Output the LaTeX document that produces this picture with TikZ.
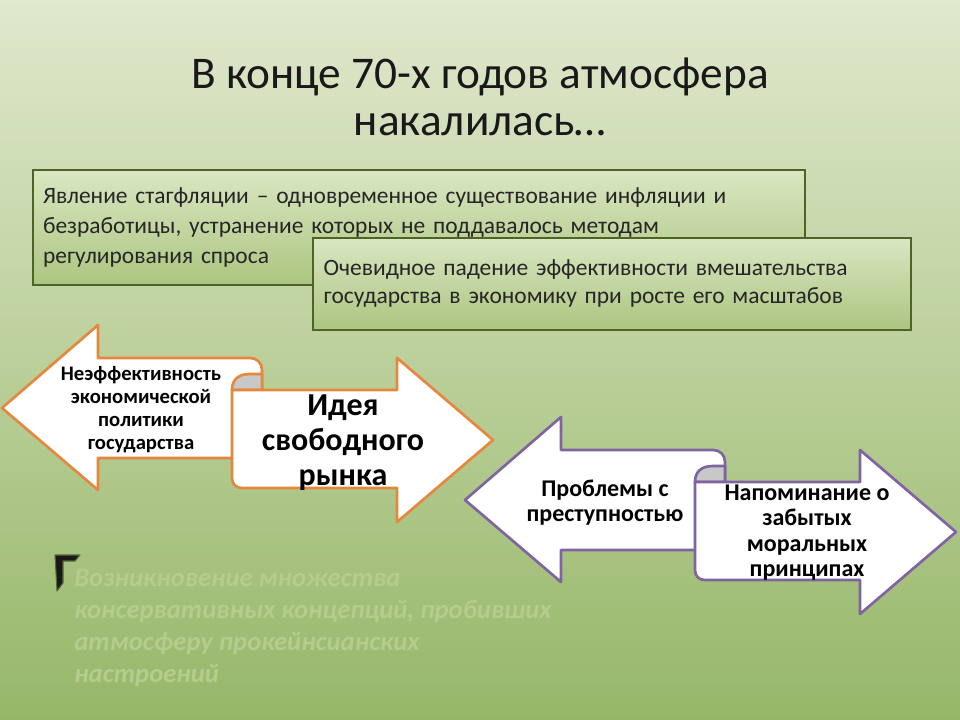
\documentclass[tikz,border=0pt]{standalone}
\usepackage{fontspec}
\setmainfont{Carlito}
\definecolor{bgtop}{RGB}{224,232,205}
\definecolor{bgbot}{RGB}{150,183,104}
\definecolor{boxline}{RGB}{79,98,40}
\definecolor{boxtop}{RGB}{218,230,194}
\definecolor{boxbot}{RGB}{172,197,128}
\definecolor{orangeline}{RGB}{230,135,62}
\definecolor{purpleline}{RGB}{128,100,162}
\definecolor{curlgray}{RGB}{200,200,200}
\definecolor{faded}{RGB}{180,204,140}

\begin{document}
\begin{tikzpicture}[x=0.75pt,y=-0.75pt,
  box/.style={draw=boxline, line width=1.5pt, top color=boxtop, bottom color=boxbot,
    align=left, text=black!85},
  scroll/.style={draw=#1, fill=white, line width=2pt, line join=round},
  curl/.style={scroll=#1, fill=curlgray},
  arrowtext/.style={align=center, text=black, inner sep=0pt}]
\useasboundingbox (0,0) rectangle (960,720);
\shade[top color=bgtop, bottom color=bgbot] (0,0) rectangle (960,720);

% title
\node[font=\fontsize{34}{35.5}\selectfont, align=center, text=black!90] (title) at (480,97)
  {В конце 70-х годов атмосфера\\накалилась…};

% text boxes
\node[box, font=\fontsize{17.6}{22.5}\selectfont, inner xsep=7.5pt,
  minimum width=579pt, minimum height=86pt, text width=564pt] (stagfl) at (419,227.5)
  {Явление стагфляции – одновременное существование инфляции и\\
   безработицы, устранение которых не поддавалось методам\\
   регулирования спроса};
\node[box, font=\fontsize{17.6}{21}\selectfont, inner xsep=8pt,
  minimum width=448.5pt, minimum height=69pt, text width=432.5pt] (decline) at (612,284)
  {Очевидное падение эффективности вмешательства\\
   государства в экономику при росте его масштабов};

% two scroll arrows
\foreach \dx/\dy/\edge in {0/0/orangeline, 463/92/purpleline} {
  \begin{scope}[shift={(\dx,\dy)}]
    \path[scroll=\edge] (2,408) -- (98,325) -- (98,358) -- (250,358)
      .. controls (257,358) and (262,363) .. (262,370) -- (262,458)
      -- (98,458) -- (98,490) -- cycle;
    \path[curl=\edge] (232,390) .. controls (232,380) and (238,374) .. (250,374)
      -- (262,374) -- (262,390) -- cycle;
    \path[scroll=\edge] (232,390) -- (397,390) -- (397,358) -- (493,440)
      -- (397,522) -- (397,488) -- (242,488)
      .. controls (236,488) and (232,484) .. (232,478) -- cycle;
  \end{scope}
}

\node[arrowtext, font=\bfseries\fontsize{15.5}{17.25}\selectfont] (ineff) at (141,409.5)
  {Неэффективность\\экономической\\политики\\государства};
\node[arrowtext, font=\bfseries\fontsize{24}{26}\selectfont] (idea) at (343,442.5)
  {Идея\\свободного\\рынка};
\node[arrowtext, font=\bfseries\fontsize{18}{19}\selectfont] (crime) at (605,502.5)
  {Проблемы с\\преступностью};
\node[arrowtext, font=\bfseries\fontsize{18}{19}\selectfont] (morals) at (807,532.5)
  {Напоминание о\\забытых\\моральных\\принципах};

% bullet and faded note
\path[fill=black!90, draw=boxline!80!gray, line width=0.8pt, line join=round]
  (55,555) -- (80,555) -- (75,561) -- (63,561) -- (63,583) -- (57,591) -- cycle;
\node[anchor=west, align=left, inner sep=0pt, text=faded,
  font=\bfseries\itshape\fontsize{20}{24}\selectfont] (conserv) at (74,628)
  {Возникновение множества\\
   консервативных концепций, пробивших\\
   атмосферу прокейнсианских\\
   настроений};
\end{tikzpicture}
\end{document}
